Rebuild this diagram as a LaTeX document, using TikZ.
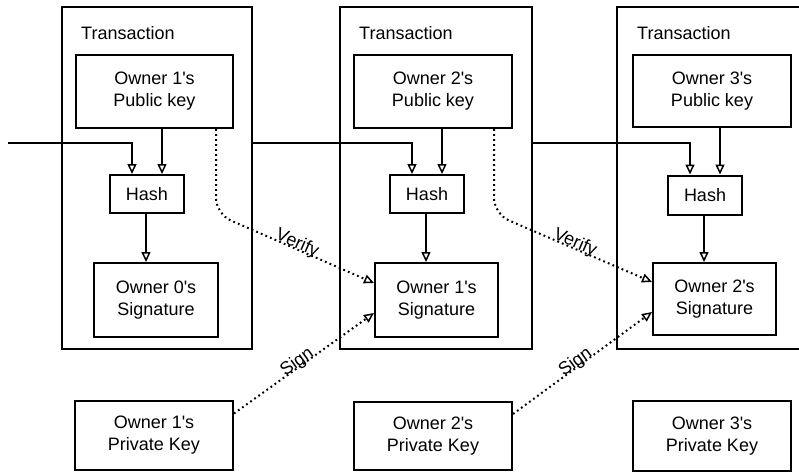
\documentclass[tikz,border=0pt]{standalone}
\usepackage{fontspec}
\setmainfont{Liberation Sans}
\usetikzlibrary{arrows.meta}
\newcommand\ap{\textquotesingle}
\begin{document}
\begin{tikzpicture}[x=1pt,y=-1pt,
  box/.style={draw, line width=2pt, align=center, inner sep=0pt, font=\fontsize{18}{22}\selectfont},
  txbox/.style={draw, line width=2pt, inner sep=0pt},
  lbl/.style={font=\fontsize{18}{22}\selectfont, inner sep=0pt},
  tip/.style={-{Triangle[open,length=10pt,width=9pt,line width=1.5pt]}},
  arr/.style={line width=2pt, tip},
  dotarr/.style={line width=2pt, dash pattern=on 1.8pt off 3.2pt, tip},
  edgelbl/.style={font=\fontsize{18}{22}\selectfont, inner sep=0pt, sloped}
]
\useasboundingbox (0,0) rectangle (799,472);
\clip (0,0) rectangle (799,472);
% transaction frames
\node[txbox, minimum width=190pt, minimum height=342pt] (tx1) at (157,178) {};
\node[txbox, minimum width=192pt, minimum height=342pt] (tx2) at (436,178) {};
\node[txbox, minimum width=192pt, minimum height=342pt] (tx3) at (713,178) {};
\node[lbl, anchor=west] (t1) at (81,33) {Transaction};
\node[lbl, anchor=west] (t2) at (359,33) {Transaction};
\node[lbl, anchor=west] (t3) at (637,33) {Transaction};
% public keys
\node[box, minimum width=157pt, minimum height=73pt] (pk1) at (154.5,91.5) {Owner 1\ap s\\Public key};
\node[box, minimum width=158pt, minimum height=73pt] (pk2) at (433,91.5) {Owner 2\ap s\\Public key};
\node[box, minimum width=158pt, minimum height=72pt] (pk3) at (712,91) {Owner 3\ap s\\Public key};
% hashes
\node[box, minimum width=74pt, minimum height=38pt] (h1) at (147,194) {Hash};
\node[box, minimum width=74pt, minimum height=38pt] (h2) at (427,194) {Hash};
\node[box, minimum width=74pt, minimum height=39pt] (h3) at (705,195) {Hash};
% signatures
\node[box, minimum width=124pt, minimum height=74pt] (s1) at (156,300) {Owner 0\ap s\\Signature};
\node[box, minimum width=123pt, minimum height=74pt] (s2) at (436.5,300) {Owner 1\ap s\\Signature};
\node[box, minimum width=123pt, minimum height=72pt] (s3) at (714.5,299) {Owner 2\ap s\\Signature};
% private keys
\node[box, minimum width=158pt, minimum height=69pt] (k1) at (154,435.5) {Owner 1\ap s\\Private Key};
\node[box, minimum width=158pt, minimum height=68pt] (k2) at (433,436) {Owner 2\ap s\\Private Key};
\node[box, minimum width=158pt, minimum height=70pt] (k3) at (712,436) {Owner 3\ap s\\Private Key};
% helper coordinates
\coordinate (in0) at (8,143);
\foreach \i in {1,2,3}{
  \coordinate (hl\i) at ([xshift=-15pt]h\i.north);
  \coordinate (hr\i) at ([xshift=15pt]h\i.north);
}
% chain lines
\draw[arr] (in0) -| (hl1);
\draw[arr] (tx1.east |- in0) -| (hl2);
\draw[arr] (tx2.east |- in0) -| (hl3);
% public key -> hash
\draw[arr] (pk1.south -| hr1) -- (hr1);
\draw[arr] (pk2.south -| hr2) -- (hr2);
\draw[arr] (pk3.south -| hr3) -- (hr3);
% hash -> signature
\draw[arr] ([xshift=-1pt]h1.south) -- ([xshift=-1pt]h1.south |- s1.north);
\draw[arr] ([xshift=-1pt]h2.south) -- ([xshift=-1pt]h2.south |- s2.north);
\draw[arr] ([xshift=-1pt]h3.south) -- ([xshift=-1pt]h3.south |- s3.north);
% verify
\coordinate (v1) at ([xshift=61.5pt]pk1.south);
\coordinate (v2) at ([xshift=61pt]pk2.south);
\draw[dotarr, rounded corners=16pt] (v1) -- (v1 |- 0,214) -- node[edgelbl, pos=0.5, above=-4pt]{Verify} ([yshift=17pt]s2.west);
\draw[dotarr, rounded corners=16pt] (v2) -- (v2 |- 0,214) -- node[edgelbl, pos=0.5, above=-4pt]{Verify} ([yshift=17pt]s3.west);
% sign
\draw[dotarr] ([yshift=22pt]k1.east) -- node[edgelbl, pos=0.47, above=-5pt]{Sign} ([yshift=-13pt]s2.west);
\draw[dotarr] ([yshift=22pt]k2.east) -- node[edgelbl, pos=0.47, above=-5pt]{Sign} ([yshift=-13pt]s3.west);
\end{tikzpicture}
\end{document}
